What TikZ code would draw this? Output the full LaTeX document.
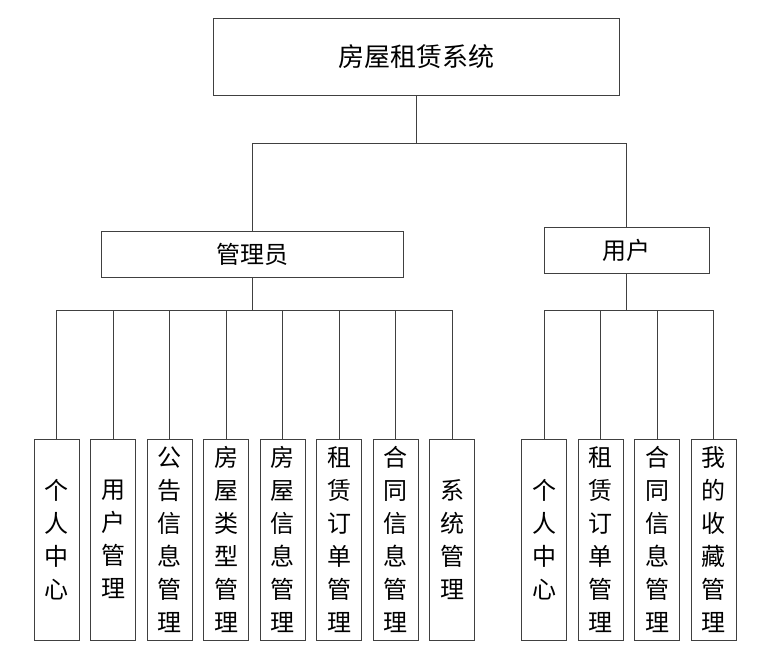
\documentclass[tikz,border=0pt]{standalone}
\usepackage{fontspec}
\setmainfont{Noto Sans CJK SC}
\begin{document}
\begin{tikzpicture}[
        x=1pt, y=-1pt,
        rect/.style={draw=black!75, line width=0.9pt, inner sep=0pt,
            font=\fontsize{24}{30}\selectfont},
        leaf/.style={rect, minimum width=45pt, minimum height=201pt,
            align=center, font=\fontsize{24}{33}\selectfont},
        link/.style={draw=black!75, line width=0.9pt}
    ]
    \useasboundingbox (0,0) rectangle (775,654);

    \node[rect, minimum width=406pt, minimum height=77pt,
        font=\fontsize{26}{30}\selectfont] (sys) at (416,56.5) {房屋租赁系统};
    \node[rect, minimum width=302pt, minimum height=46pt] (admin) at (252,254) {管理员};
    \node[rect, minimum width=165pt, minimum height=46pt] (user) at (626.5,250) {用户};

    \foreach \x/\t [count=\i] in {
        56.5/{个\\人\\中\\心}, 113/{用\\户\\管\\理}, 169.5/{公\\告\\信\\息\\管\\理},
        226/{房\\屋\\类\\型\\管\\理}, 282.5/{房\\屋\\信\\息\\管\\理},
        339/{租\\赁\\订\\单\\管\\理}, 395.5/{合\\同\\信\\息\\管\\理}, 452/{系\\统\\管\\理}}
        \node[leaf] (a\i) at (\x,539.5) {\t};

    \foreach \x/\t [count=\i] in {
        544/{个\\人\\中\\心}, 600.5/{租\\赁\\订\\单\\管\\理},
        657/{合\\同\\信\\息\\管\\理}, 713.5/{我\\的\\收\\藏\\管\\理}}
        \node[leaf] (u\i) at (\x,539.5) {\t};

    \coordinate (top) at (416,143);
    \coordinate (abus) at (252,310);
    \coordinate (ubus) at (626.5,310);

    \draw[link] (sys) -- (top);
    \draw[link] (top) -| (admin);
    \draw[link] (top) -| (user);

    \draw[link] (admin) -- (abus);
    \foreach \i in {1,...,8}
        \draw[link] (abus) -| (a\i);

    \draw[link] (user) -- (ubus);
    \foreach \i in {1,...,4}
        \draw[link] (ubus) -| (u\i);
\end{tikzpicture}
\end{document}
